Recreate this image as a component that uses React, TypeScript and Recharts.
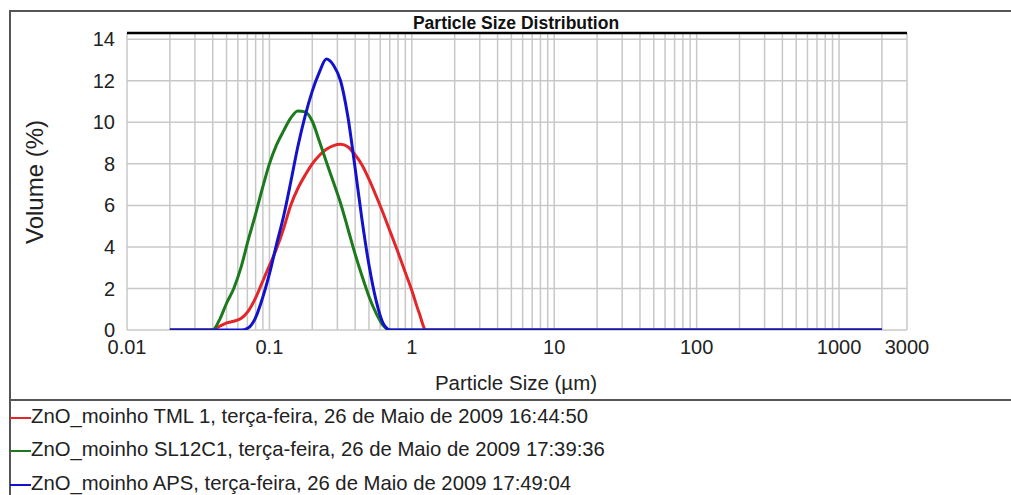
import { LineChart, Line, XAxis, YAxis, CartesianGrid, ReferenceLine } from 'recharts'

// particle size (µm) / volume (%)
const tmlSize = [0.02, 0.0398, 0.0447, 0.0501, 0.0562, 0.0631, 0.0708, 0.0794, 0.0891, 0.1, 0.112, 0.126, 0.141, 0.158, 0.178, 0.2, 0.224, 0.251, 0.282, 0.316, 0.355, 0.398, 0.447, 0.501, 0.562, 0.631, 0.708, 0.794, 0.891, 1.0, 1.122, 1.259, 2000]
const tmlVolume = [0, 0, 0.18, 0.34, 0.42, 0.55, 0.9, 1.5, 2.3, 3.1, 3.9, 4.9, 6.0, 6.8, 7.45, 8.0, 8.4, 8.7, 8.88, 8.94, 8.82, 8.45, 7.95, 7.25, 6.45, 5.6, 4.7, 3.8, 2.85, 1.9, 0.85, 0, 0]

const slSize = [0.02, 0.0398, 0.0447, 0.0501, 0.0562, 0.0631, 0.0708, 0.0794, 0.0891, 0.1, 0.112, 0.126, 0.141, 0.158, 0.178, 0.2, 0.224, 0.251, 0.282, 0.316, 0.355, 0.398, 0.447, 0.501, 0.562, 0.631, 0.708, 2000]
const slVolume = [0, 0, 0.5, 1.3, 2.0, 3.0, 4.3, 5.5, 6.8, 8.0, 8.9, 9.6, 10.2, 10.55, 10.5, 10.05, 9.1, 8.1, 7.1, 6.1, 4.9, 3.7, 2.6, 1.6, 0.8, 0.2, 0, 0]

const apsSize = [0.02, 0.0631, 0.0708, 0.0794, 0.0891, 0.1, 0.112, 0.126, 0.141, 0.158, 0.178, 0.2, 0.224, 0.251, 0.282, 0.316, 0.355, 0.398, 0.447, 0.501, 0.562, 0.631, 0.708, 2000]
const apsVolume = [0, 0, 0.1, 0.55, 1.5, 2.7, 4.1, 5.5, 7.1, 8.8, 10.3, 11.5, 12.4, 13.05, 12.75, 12.0, 10.3, 7.9, 5.3, 3.1, 1.4, 0.3, 0, 0]

const SERIES = [
  { name: 'ZnO_moinho TML 1, terça-feira, 26 de Maio de 2009 16:44:50', color: '#e3262a', sizes: tmlSize, volumes: tmlVolume },
  { name: 'ZnO_moinho SL12C1, terça-feira, 26 de Maio de 2009 17:39:36', color: '#1c7a1c', sizes: slSize, volumes: slVolume },
  { name: 'ZnO_moinho APS, terça-feira, 26 de Maio de 2009 17:49:04', color: '#1212cc', sizes: apsSize, volumes: apsVolume },
]

const X_TICKS = [0.01, 0.1, 1, 10, 100, 1000, 3000]
const Y_TICKS = [0, 2, 4, 6, 8, 10, 12, 14]
const DECADES = [0.01, 0.1, 1, 10, 100, 1000]

// minor log grid: 1..9 in every decade, up to 3000
const GRID_X: number[] = []
DECADES.forEach(d => {
  for (let k = 1; k <= 9; k++) {
    const v = +(d * k).toPrecision(3)
    if (v <= 3000) GRID_X.push(v)
  }
})

const FONT = '"Liberation Sans", Arial, sans-serif'
const TICK = { fontSize: 20, fill: '#222', fontFamily: FONT }

export default function App() {
  return (
    <div style={{ position: 'absolute', left: 0, top: 0, width: 1011, height: 495, overflow: 'hidden', background: 'white', fontFamily: FONT }}>
      {/* outer frame and legend separator */}
      <div style={{ position: 'absolute', left: 9, top: 10, width: 1010, height: 500, border: '2px solid #555', boxSizing: 'border-box' }} />
      <div style={{ position: 'absolute', left: 9, top: 399, width: 1002, height: 2, background: '#555' }} />

      <div style={{ position: 'absolute', left: 0, top: 0 }}>
        <LineChart width={1011} height={400} margin={{ top: 33, right: 104, bottom: 40, left: 67 }}>
          <CartesianGrid vertical={false} stroke="#c8c8c8" strokeWidth={1.5} />
          {GRID_X.map(v => (
            <ReferenceLine key={v} x={v} stroke="#c8c8c8" strokeWidth={1.5} />
          ))}
          <ReferenceLine y={14.3} stroke="#000" strokeWidth={2.5} />
          <XAxis
            type="number"
            dataKey="size"
            scale="log"
            domain={[0.01, 3000]}
            allowDataOverflow
            ticks={X_TICKS}
            axisLine={false}
            tickLine={false}
            tickSize={0}
            tickMargin={10}
            height={30}
            tick={TICK}
            tickFormatter={v => String(v)}
          />
          <YAxis
            type="number"
            domain={[0, 14.3]}
            allowDataOverflow
            ticks={Y_TICKS}
            axisLine={false}
            tickLine={false}
            tickSize={0}
            tickMargin={12}
            width={60}
            tick={TICK}
          />
          {SERIES.map(s => (
            <Line
              key={s.name}
              data={s.sizes.map((size, i) => ({ size, volume: s.volumes[i] }))}
              dataKey="volume"
              type="monotone"
              stroke={s.color}
              strokeWidth={3}
              dot={false}
              isAnimationActive={false}
            />
          ))}
        </LineChart>
      </div>

      <div style={{ position: 'absolute', left: 516, top: 14.5, transform: 'translateX(-50%)', fontSize: 17.5, lineHeight: '17.5px', fontWeight: 'bold', whiteSpace: 'nowrap', color: '#111' }}>
        Particle Size Distribution
      </div>
      <div style={{ position: 'absolute', left: 516, top: 372.6, transform: 'translateX(-50%)', fontSize: 20.5, lineHeight: '20.5px', whiteSpace: 'nowrap', color: '#222' }}>
        Particle Size (µm)
      </div>
      <div style={{ position: 'absolute', left: 35, top: 182, transform: 'translate(-50%, -50%) rotate(-90deg)', fontSize: 24, lineHeight: '24px', whiteSpace: 'nowrap', color: '#222' }}>
        Volume (%)
      </div>

      {SERIES.map((s, i) => (
        <div key={s.name} style={{ position: 'absolute', left: 10, top: 405.7 + i * 33.5, height: 20, display: 'flex', alignItems: 'center' }}>
          <div style={{ width: 21, height: 2, background: s.color, marginTop: 4 }} />
          <div style={{ fontSize: 20.3, lineHeight: '20px', whiteSpace: 'nowrap', color: '#222' }}>{s.name}</div>
        </div>
      ))}
    </div>
  )
}
